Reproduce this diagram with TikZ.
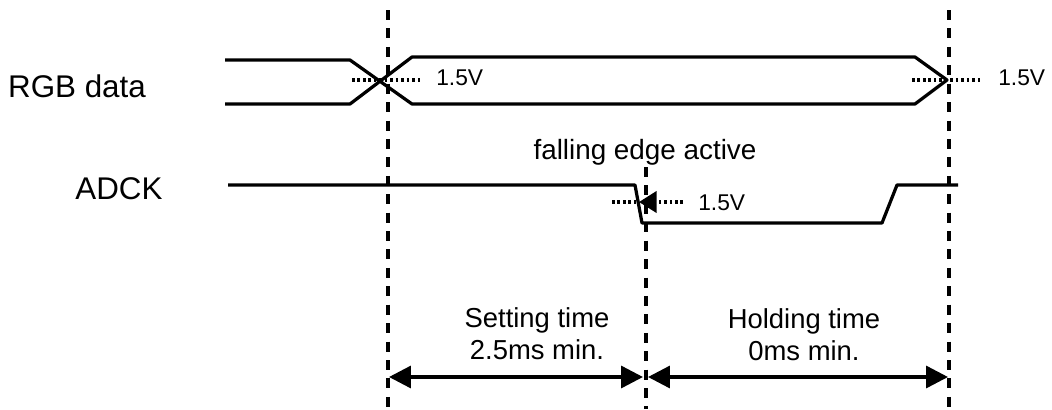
\documentclass[tikz,border=0pt]{standalone}
\usepackage{fontspec}
\setmainfont{Liberation Sans}
\usetikzlibrary{arrows.meta}

\tikzset{
    sig/.style={line width=2.3pt, line join=round},
    marker/.style={line width=2.8pt, dash pattern=on 7.1pt off 6pt},
    level/.style={line width=2.5pt, dash pattern=on 1.8pt off 2.1pt},
    span/.style={line width=2.4pt, {Triangle[length=15.5pt,width=15.5pt]}-{Triangle[length=15.5pt,width=15.5pt]}},
    lbl/.style={inner sep=0pt, anchor=base},
}

\begin{document}
\begin{tikzpicture}[x=0.025cm, y=-0.025cm]
    \useasboundingbox (0,0) rectangle (1052,409);

    \draw[marker] (388,10) -- (388,409);
    \draw[marker] (646,167) -- (646,409);
    \draw[marker] (949,10) -- (949,409);

    \node[lbl, font=\fontsize{22.3}{26}\selectfont] (rgb) at (77,97) {RGB data};
    \node[lbl, font=\fontsize{22.3}{26}\selectfont] (adck) at (119,199) {ADCK};

    \draw[sig] (225,60) -- (350,60) -- (412,104) -- (915,104) -- (947,80)
        -- (915,57) -- (412,57) -- (350,104) -- (225,104);
    \draw[level] (352,80) -- (422,80);
    \draw[level] (912,80) -- (982,80);
    \node[lbl, anchor=base west, font=\fontsize{16.2}{18}\selectfont] (vl) at (436,85) {1.5V};
    \node[lbl, anchor=base west, font=\fontsize{16.2}{18}\selectfont] (vr) at (998,85) {1.5V};

    \node[lbl, font=\fontsize{19.8}{23}\selectfont] (fall) at (645,159) {falling edge active};
    \draw[sig] (228,185) -- (635,185) -- (642,223) -- (882,223) -- (897,185) -- (958,185);
    \coordinate (edge) at (639,202);
    \coordinate (lvl) at (683,202);
    \draw[level] (612,202) -- (edge);
    \draw[level, -{Triangle[length=12.5pt,width=15pt]}] (lvl) -- (edge);
    \node[lbl, anchor=base west, font=\fontsize{16.2}{18}\selectfont] (va) at (698,210) {1.5V};

    \node[inner sep=0pt, anchor=north, align=center, font=\fontsize{19.5}{22.7}\selectfont] (setup) at (537,307) {Setting time\\2.5ms min.};
    \node[inner sep=0pt, anchor=north, align=center, font=\fontsize{19.5}{22.7}\selectfont] (hold) at (804,308) {Holding time\\0ms min.};

    \coordinate (s0) at (389,377);
    \coordinate (s1) at (643,377);
    \coordinate (h0) at (648,377);
    \coordinate (h1) at (948,377);
    \draw[span] (s0) -- (s1);
    \draw[span] (h0) -- (h1);
\end{tikzpicture}
\end{document}
